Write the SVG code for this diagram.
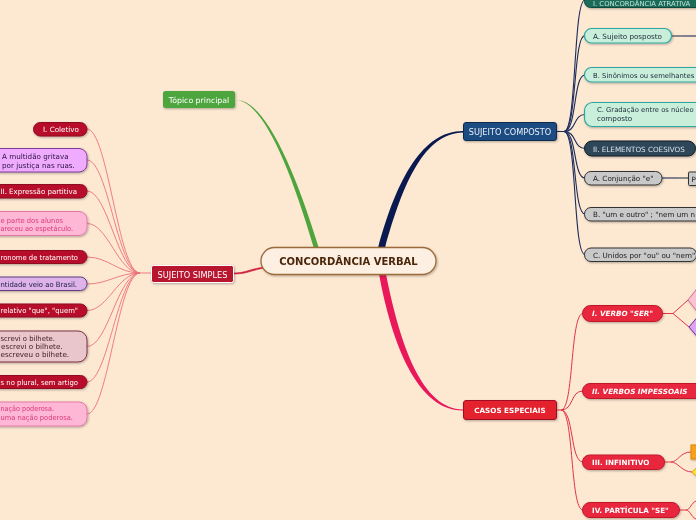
<svg xmlns="http://www.w3.org/2000/svg" width="696" height="520" viewBox="0 0 696 520">
<defs>
<filter id="sh" x="-20%" y="-40%" width="140%" height="200%"><feDropShadow dx="0.8" dy="1" stdDeviation="0.8" flood-color="#000" flood-opacity="0.3"/></filter>
</defs>
<style>
text{font-family:"DejaVu Sans",Verdana,sans-serif;font-size:7.2px}
.e{text-anchor:end}
.m{text-anchor:middle}
.wt{fill:#fff}
.cr rect{fill:#b8112b;stroke:#8c0a20;stroke-width:1}
.cr text{fill:#fff}
.pk rect{fill:#ffb7d6;stroke:#e27aa6;stroke-width:1}
.pk text{fill:#d83a78}
.mint rect{fill:#c9eed9;stroke:#2fa7a2;stroke-width:1.2}
.mint text{fill:#1a2a3a}
.gr rect{fill:#c9c9c9;stroke:#333;stroke-width:1}
.gr text{fill:#1a1a1a}
.rd rect{fill:#e8283c;stroke:#c01828;stroke-width:1}
.rd text{fill:#fff;font-weight:bold}
.it{font-style:italic}
.lc path{fill:none;stroke:#ec7278;stroke-width:0.9}
.nc path{fill:none;stroke:#1c2c5c;stroke-width:1.1}
.rc path{fill:none;stroke:#e23446;stroke-width:1}
</style>
<rect width="696" height="520" fill="#fde8d2"/>

<g id="connectors">
  <path d="M313.5,247 C 288,160 261,101 236,100 C 262,99 292,160 318.5,247 Z" fill="#4ea53e"/>
  <path d="M378,248 C 397,178 423,131 463,131 L463,132.5 C 425,133 403,182 385,248 Z" fill="#0a1a50"/>
  <path d="M379,274 C 392,345 418,411 463,410.5 L463,409.5 C 422,409 400,345 386,274 Z" fill="#e8185a"/>
  <path d="M264,268 C 250,271 245,274 234,274 L234,273 C 245,273 250,269 264,267 Z" fill="#d02040" stroke="#d02040" stroke-width="0.6"/>
  <g class="lc">
    <path d="M151,273 L140,273"/>
    <path d="M87,129 C 108,129 118,273 140,273"/>
    <path d="M87,160 C 108,160 118,273 140,273"/>
    <path d="M87,191 C 108,191 118,273 140,273"/>
    <path d="M87,223.5 C 108,223.5 118,273 140,273"/>
    <path d="M87,257 C 108,257 118,273 140,273"/>
    <path d="M87,284 C 108,284 118,273 140,273"/>
    <path d="M87,310.5 C 108,310.5 118,273 140,273"/>
    <path d="M87,346.5 C 108,346.5 118,273 140,273"/>
    <path d="M87,382 C 108,382 118,273 140,273"/>
    <path d="M87,414 C 108,414 118,273 140,273"/>
  </g>
  <g class="nc">
    <path d="M557,131.5 L564,131.5"/>
    <path d="M564,131.5 C 577,131.5 573,0 585,0"/>
    <path d="M564,131.5 C 577,131.5 573,35.5 585,35.5"/>
    <path d="M564,131.5 C 577,131.5 573,75 585,75"/>
    <path d="M564,131.5 C 577,131.5 573,114.5 585,114.5"/>
    <path d="M564,131.5 C 577,131.5 573,148.5 585,148.5"/>
    <path d="M564,131.5 C 577,131.5 573,178 585,178"/>
    <path d="M564,131.5 C 577,131.5 573,214 585,214"/>
    <path d="M564,131.5 C 577,131.5 573,254.5 585,254.5"/>
    <path d="M682,36 L696,36"/>
    <path d="M662,178 L678,178"/>
  </g>
  <path d="M671.5,36 L682,36 M678,178 L688.5,178" stroke="#888" stroke-width="2" fill="none"/>
  <g class="rc">
    <path d="M556,410 L561,410"/>
    <path d="M561,410 C 574,410 570,313.5 583,313.5"/>
    <path d="M561,410 C 574,410 570,391 583,391"/>
    <path d="M561,410 C 574,410 570,462 583,462"/>
    <path d="M561,410 C 574,410 570,510 583,510"/>
    <path d="M662,313.5 L673,313.5 L688,300 M673,313.5 L689,327"/>
    <path d="M664,462 L671,462 C 678,462 680,452 691,452 M671,462 C 678,462 682,472 692,472"/>
    <path d="M679,510 L686,510 C 690,510 691,503 696,501 M686,510 C 690,510 691,517 696,519"/>
  </g>
</g>

<g id="central" filter="url(#sh)">
  <rect x="261" y="247.5" width="175" height="27" rx="13.5" fill="#fdf0e2" stroke="#9b6b3b" stroke-width="1.3"/>
  <text x="348.5" y="265" class="m" style="font-size:10px;font-weight:bold;fill:#4a2608">CONCORDÂNCIA VERBAL</text>
</g>
<g id="topico" filter="url(#sh)">
  <rect x="163" y="91" width="72" height="17" rx="2.5" fill="#4ea53e"/>
  <text x="199" y="103" class="m wt" style="font-size:7.8px">Tópico principal</text>
</g>
<g id="sujeito-simples" filter="url(#sh)">
  <rect x="151.5" y="265.5" width="82" height="17" rx="2" fill="#b8132d" stroke="#fff" stroke-width="1"/>
  <text x="192.5" y="277.5" class="m wt" style="font-size:8.2px">SUJEITO SIMPLES</text>
</g>
<g id="sujeito-composto" filter="url(#sh)">
  <rect x="463.5" y="122.5" width="93" height="18" rx="2.5" fill="#1f4b82" stroke="#102a50"/>
  <text x="510" y="134.5" class="m" style="font-size:8.2px;fill:#e8eef8">SUJEITO COMPOSTO</text>
</g>
<g id="casos-especiais" filter="url(#sh)">
  <rect x="463.5" y="400.5" width="93" height="19" rx="2.5" fill="#e3222f" stroke="#a01020"/>
  <text x="510" y="413" class="m wt" style="font-weight:bold">CASOS ESPECIAIS</text>
</g>

<g id="ss1" class="cr" filter="url(#sh)"><rect x="33.5" y="122.5" width="53.5" height="13.5" rx="6.75"/><text x="43" y="132">I. Coletivo</text></g>
<g id="ss2" filter="url(#sh)"><rect x="-20" y="148.5" width="107" height="23.5" rx="8" fill="#efacff" stroke="#7d3f9a"/><text x="2" y="158.5" fill="#2a1040">A multidão gritava</text><text x="2" y="167.5" fill="#2a1040">por justiça nas ruas.</text></g>
<g id="ss3" class="cr" filter="url(#sh)"><rect x="-20" y="184.5" width="107" height="13.5" rx="6.5"/><text x="0.5" y="194" textLength="76.5" lengthAdjust="spacingAndGlyphs">II. Expressão partitiva</text></g>
<g id="ss4" class="pk" filter="url(#sh)"><rect x="-20" y="211.5" width="107" height="24" rx="8"/><text x="0.5" y="222.5" textLength="62.5" lengthAdjust="spacingAndGlyphs">e parte dos alunos</text><text x="0.5" y="230.5" textLength="72.5" lengthAdjust="spacingAndGlyphs">areceu ao espetáculo.</text></g>
<g id="ss5" class="cr" filter="url(#sh)"><rect x="-20" y="250.5" width="107" height="13" rx="6.5"/><text x="0.5" y="259.5" textLength="77.5" lengthAdjust="spacingAndGlyphs">ronome de tratamento</text></g>
<g id="ss6" filter="url(#sh)"><rect x="-20" y="277" width="107" height="13.5" rx="6.5" fill="#ddb3ea" stroke="#5e3c80"/><text x="0.5" y="286.5" textLength="76.5" lengthAdjust="spacingAndGlyphs" fill="#1a1a40">ntidade veio ao Brasil.</text></g>
<g id="ss7" class="cr" filter="url(#sh)"><rect x="-20" y="304" width="107" height="13" rx="6.5"/><text x="0.5" y="313" textLength="77.5" lengthAdjust="spacingAndGlyphs">relativo "que", "quem"</text></g>
<g id="ss8" filter="url(#sh)"><rect x="-20" y="331" width="107" height="31" rx="9" fill="#e9c6cb" stroke="#7b3444"/><text x="0.5" y="341" textLength="54.5" lengthAdjust="spacingAndGlyphs" fill="#3a1a20">screvi o bilhete.</text><text x="1" y="349" fill="#3a1a20">escrevi o bilhete.</text><text x="0.5" y="357" fill="#3a1a20">escreveu o bilhete.</text></g>
<g id="ss9" class="cr" filter="url(#sh)"><rect x="-20" y="375.5" width="107" height="13" rx="6.5"/><text x="0.5" y="384.5" textLength="77.5" lengthAdjust="spacingAndGlyphs">s no plural, sem artigo</text></g>
<g id="ss10" class="pk" filter="url(#sh)"><rect x="-20" y="402" width="107" height="24" rx="8"/><text x="0.5" y="411" textLength="53.5" lengthAdjust="spacingAndGlyphs">nação poderosa.</text><text x="0.5" y="419.5" textLength="72.5" lengthAdjust="spacingAndGlyphs">uma nação poderosa.</text></g>

<g id="sc1" filter="url(#sh)"><rect x="584.5" y="-8" width="130" height="15.5" rx="6" fill="#1c6a58" stroke="#0f4a3c"/><text x="593" y="6" style="font-size:6.85px" fill="#bfe6d8">I. CONCORDÂNCIA ATRATIVA</text></g>
<g id="sc2" class="mint" filter="url(#sh)"><rect x="584.5" y="28.5" width="87" height="14.5" rx="7"/><text x="593" y="38.5">A. Sujeito posposto</text></g>
<g id="sc3" class="mint" filter="url(#sh)"><rect x="584.5" y="67.5" width="130" height="14.5" rx="7"/><text x="593" y="77.5" style="font-size:6.85px">B. Sinônimos ou semelhantes</text></g>
<g id="sc4" class="mint" filter="url(#sh)"><rect x="584.5" y="102.5" width="130" height="24" rx="8"/><text x="597" y="112" style="font-size:6.8px">C. Gradação entre os núcleo</text><text x="597" y="121">composto</text></g>
<g id="sc5" filter="url(#sh)"><rect x="584.5" y="141" width="111" height="15" rx="7.5" fill="#2e4659" stroke="#111a22"/><text x="593" y="151.5" fill="#d8e2ec">II. ELEMENTOS COESIVOS</text></g>
<g id="sc6" class="gr" filter="url(#sh)"><rect x="584.5" y="171.5" width="77.5" height="13.5" rx="6.5"/><text x="593" y="181">A. Conjunção "e"</text></g>
<g id="sc6a" class="gr" filter="url(#sh)"><rect x="688.5" y="172" width="20" height="13.5" rx="1"/><text x="691.5" y="181.5">P</text></g>
<g id="sc7" class="gr" filter="url(#sh)"><rect x="584.5" y="207.5" width="130" height="13.5" rx="6.5"/><text x="593" y="217" textLength="102" lengthAdjust="spacingAndGlyphs">B. "um e outro" ; "nem um n</text></g>
<g id="sc8" class="gr" filter="url(#sh)"><rect x="584.5" y="248" width="112" height="13.5" rx="6.5"/><text x="593" y="257.5">C. Unidos por "ou" ou "nem"</text></g>

<g id="ce1" class="rd" filter="url(#sh)"><rect x="582.5" y="305.5" width="80" height="16" rx="8"/><text x="592" y="316" class="it">I. VERBO "SER"</text></g>
<g id="ce1a" filter="url(#sh)"><polygon points="688,300 703,281 718,300 703,319" fill="#f8c4d4" stroke="#d86890"/></g>
<g id="ce1b" filter="url(#sh)"><polygon points="689,327 705,308 721,327 705,346" fill="#dda2f0" stroke="#6a30a0"/></g>
<g id="ce2" class="rd" filter="url(#sh)"><rect x="582.5" y="383.5" width="130" height="15" rx="7.5"/><text x="592" y="393.5" class="it">II. VERBOS IMPESSOAIS</text></g>
<g id="ce3" class="rd" filter="url(#sh)"><rect x="582.5" y="455" width="82" height="14.5" rx="7"/><text x="592" y="465">III. INFINITIVO</text></g>
<g id="ce3a" filter="url(#sh)"><rect x="691" y="445" width="12" height="14" fill="#f7a21e" stroke="#e08400"/></g>
<g id="ce3b" filter="url(#sh)"><polygon points="692,472 703,462 714,472 703,482" fill="#ffe234" stroke="#e8a800"/></g>
<g id="ce4" class="rd" filter="url(#sh)"><rect x="582.5" y="502.5" width="97" height="15" rx="7.5"/><text x="592" y="513">IV. PARTÍCULA "SE"</text></g>
</svg>
